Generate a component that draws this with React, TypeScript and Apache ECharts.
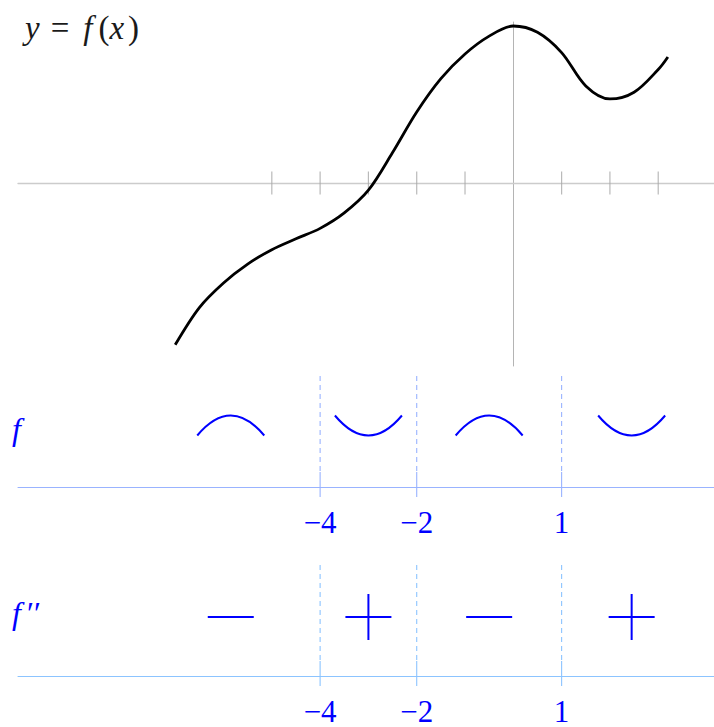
import React, { useEffect, useRef } from 'react';
import * as echarts from 'echarts';

// Sampled points of y = f(x)
const curveX = [-7, -6.5, -6, -5.5, -5, -4.5, -4, -3.5, -3, -2.5, -2, -1.5, -1, -0.5, 0, 0.5, 1, 1.5, 2, 2.5, 3, 3.2];
const curveY = [-3.35, -2.58, -2.07, -1.68, -1.38, -1.155, -0.94, -0.62, -0.15, 0.63, 1.47, 2.16, 2.67, 3.04, 3.25, 3.12, 2.7, 2.01, 1.74, 1.88, 2.35, 2.61];

// Tick positions on the plot's x axis
const plotTicks = [-5, -4, -3, -2, -1, 1, 2, 3];

// Sign chart
const criticalPoints = [-4, -2, 1];
const criticalLabels = ['−4', '−2', '1'];
const intervalCenters = [-5.85, -3, -0.5, 2.45];
const concavity = [-1, 1, -1, 1]; // -1: concave down, 1: concave up
const secondDerivSigns = [-1, 1, -1, 1]; // -1: minus, 1: plus

const X_MIN = -10.255;
const X_MAX = 4.155;
const BLUE = '#0000ff';
const SERIF = '"Liberation Serif", "DejaVu Serif", serif';

export default function App() {
  const ref = useRef<HTMLDivElement>(null);

  useEffect(() => {
    if (!ref.current) return;
    const chart = echarts.init(ref.current, undefined, { renderer: 'svg' });

    const labelFor = (v: number) => {
      const i = criticalPoints.indexOf(v);
      return i >= 0 ? criticalLabels[i] : '';
    };

    const rowXAxis = (gridIndex: number, color: string) => ({
      type: 'value',
      gridIndex,
      min: X_MIN,
      max: X_MAX,
      splitLine: { show: false },
      axisTick: { show: false },
      axisLine: { show: true, onZero: false, lineStyle: { color, width: 1 } },
      axisLabel: {
        show: true,
        customValues: criticalPoints,
        formatter: (v: number) => labelFor(v),
        color: BLUE,
        fontFamily: SERIF,
        fontSize: 31,
        margin: 35,
        verticalAlign: 'middle',
        showMinLabel: true,
        showMaxLabel: true,
      },
    });

    const rowYAxis = (gridIndex: number) => ({
      type: 'value',
      gridIndex,
      min: 0,
      max: 1,
      show: false,
    });

    const markerSeries = (idx: number, color: string) => ({
      type: 'custom',
      xAxisIndex: idx,
      yAxisIndex: idx,
      data: criticalPoints.map((v) => [v, 0]),
      clip: false,
      renderItem: (_p: any, api: any) => {
        const x = api.value(0);
        const top = api.coord([x, 1]);
        const bot = api.coord([x, 0]);
        return {
          type: 'group',
          children: [
            {
              type: 'line',
              shape: { x1: top[0], y1: top[1], x2: top[0], y2: bot[1] - 15 },
              style: { stroke: color, lineWidth: 1.1, lineDash: [5, 4] },
            },
            {
              type: 'line',
              shape: { x1: bot[0], y1: bot[1] - 15, x2: bot[0], y2: bot[1] + 10 },
              style: { stroke: color, lineWidth: 1.1 },
            },
          ],
        };
      },
    });

    const titleStyle = (pad: number[], italic: boolean) => ({
      fontStyle: italic ? 'italic' : 'normal',
      fontFamily: SERIF,
      fontSize: 33,
      fill: '#1a1a1a',
      padding: pad,
    });

    const option: any = {
      animation: false,
      grid: [
        { left: 18, right: 0, top: 22, height: 344 },
        { left: 18, right: 0, top: 376, height: 111 },
        { left: 18, right: 0, top: 565, height: 111 },
      ],
      xAxis: [
        {
          type: 'value',
          gridIndex: 0,
          min: X_MIN,
          max: X_MAX,
          splitLine: { show: false },
          axisTick: { show: false },
          axisLabel: { show: false },
          axisLine: { show: true, onZero: true, lineStyle: { color: '#cccccc', width: 1.3 } },
          z: 1,
        },
        rowXAxis(1, '#99b3ff'),
        rowXAxis(2, '#8cc4ff'),
      ],
      yAxis: [
        {
          type: 'value',
          gridIndex: 0,
          min: -3.789,
          max: 3.333,
          splitLine: { show: false },
          axisTick: { show: false },
          axisLabel: { show: false },
          axisLine: { show: true, onZero: true, lineStyle: { color: '#b4b4b4', width: 1 } },
        },
        rowYAxis(1),
        rowYAxis(2),
      ],
      graphic: [
        {
          type: 'text',
          left: 25,
          top: 11,
          style: {
            text: '{a|y}{b|=}{c|f}{d|(}{e|x}{g|)}',
            font: `33px ${SERIF}`,
            fill: '#1a1a1a',
            rich: {
              a: titleStyle([0, 11, 0, 0], true),
              b: titleStyle([0, 14, 0, 0], false),
              c: titleStyle([0, 6, 0, 0], true),
              d: titleStyle([0, 0, 0, 0], false),
              e: titleStyle([0, 4, 0, 0], true),
              g: titleStyle([0, 0, 0, 0], false),
            },
          },
        },
        {
          type: 'text',
          left: 12,
          top: 413,
          style: {
            text: 'f',
            fill: BLUE,
            font: `italic 32px ${SERIF}`,
          },
        },
        {
          type: 'text',
          left: 12,
          top: 597,
          style: {
            text: '{f|f}{p|′′}',
            fill: BLUE,
            font: `italic 32px ${SERIF}`,
            rich: {
              f: { fontStyle: 'italic', fontFamily: SERIF, fontSize: 32, fill: BLUE, padding: [0, 4, 0, 0] },
              p: { fontStyle: 'italic', fontFamily: SERIF, fontSize: 32, fill: BLUE },
            },
          },
        },
      ],
      series: [
        {
          type: 'scatter',
          xAxisIndex: 0,
          yAxisIndex: 0,
          symbol: 'rect',
          symbolSize: [1.2, 23],
          itemStyle: { color: '#a8a8a8' },
          silent: true,
          data: plotTicks.map((v) => [v, 0]),
        },
        {
          type: 'line',
          xAxisIndex: 0,
          yAxisIndex: 0,
          smooth: 0.33,
          showSymbol: false,
          lineStyle: { color: '#000', width: 2.8 },
          data: curveX.map((x, i) => [x, curveY[i]]),
          z: 5,
        },
        markerSeries(1, '#99b3ff'),
        markerSeries(2, '#8cc4ff'),
        {
          type: 'custom',
          xAxisIndex: 1,
          yAxisIndex: 1,
          clip: false,
          data: intervalCenters.map((c, i) => [c, 0, concavity[i]]),
          renderItem: (_p: any, api: any) => {
            const p = api.coord([api.value(0), 0]);
            const s = api.value(2);
            const cx = p[0];
            const cy = p[1] - 61.5;
            return {
              type: 'bezierCurve',
              shape: {
                x1: cx - 33.5,
                y1: cy - s * 10,
                x2: cx + 33.5,
                y2: cy - s * 10,
                cpx1: cx,
                cpy1: cy + s * 30,
              },
              style: { stroke: BLUE, lineWidth: 2, fill: null },
            };
          },
        },
        {
          type: 'custom',
          xAxisIndex: 2,
          yAxisIndex: 2,
          clip: false,
          data: intervalCenters.map((c, i) => [c, 0, secondDerivSigns[i]]),
          renderItem: (_p: any, api: any) => {
            const p = api.coord([api.value(0), 0]);
            const s = api.value(2);
            const cx = p[0];
            const cy = p[1] - 59;
            const children: any[] = [
              {
                type: 'line',
                shape: { x1: cx - 23, y1: cy, x2: cx + 23, y2: cy },
                style: { stroke: BLUE, lineWidth: 2 },
              },
            ];
            if (s > 0) {
              children.push({
                type: 'line',
                shape: { x1: cx, y1: cy - 23, x2: cx, y2: cy + 23 },
                style: { stroke: BLUE, lineWidth: 2 },
              });
            }
            return { type: 'group', children };
          },
        },
      ],
    };

    chart.setOption(option);
    return () => chart.dispose();
  }, []);

  return (
    <div
      ref={ref}
      style={{ position: 'absolute', left: 0, top: 0, width: 714, height: 727 }}
    />
  );
}
